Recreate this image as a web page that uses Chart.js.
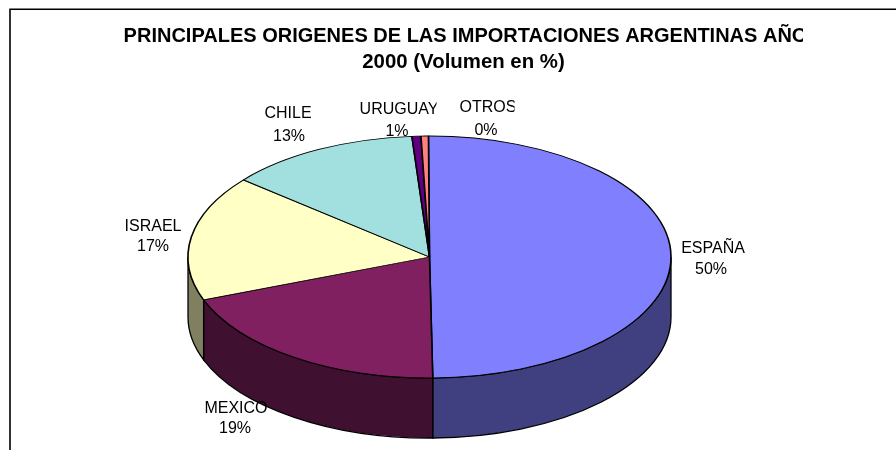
<!DOCTYPE html>
<html><head><meta charset="utf-8">
<style>html,body{margin:0;padding:0;background:#fff}canvas{display:block}</style>
<script src="https://cdn.jsdelivr.net/npm/chart.js@4"></script></head>
<body><canvas id="c" width="896" height="450"></canvas>
<script>
const categories = ["ESPAÑA","MEXICO","ISRAEL","CHILE","URUGUAY","OTROS"];
const volumes = [49.7,19.4,16.7,12.8,0.6,0.49];
const titleLines = ["PRINCIPALES ORIGENES DE LAS IMPORTACIONES ARGENTINAS AÑO","2000 (Volumen en %)"];
const faceColors = ["#8080FF","#802060","#FFFFC6","#A2E0E0","#600080","#FF8080"];
const sideColors = ["#404080","#401030","#808060","#507070","#300040","#804040"];

const PIE = {cx:429.5, cy:257, rx:241.5, ry:121, depth:60};
const labelBoxes = [
  {x:713,y:249,x2:711,y2:270},
  {x:236,y:409,x2:235,y2:429},
  {x:153,y:227,x2:153,y2:247},
  {x:288,y:114,x2:289,y2:137},
  {x:399,y:110,x2:397,y2:132,clip:436.5},
  {x:488,y:108,x2:486,y2:131,clip:514.5}
];

const pie3d = {
  id:'pie3d',
  beforeDraw(chart){
    const c=chart.ctx; c.save();
    c.strokeStyle='#000'; c.lineWidth=1.6;
    c.beginPath(); c.moveTo(10,450); c.lineTo(10,9.2); c.lineTo(896,9.2); c.stroke();
    c.restore();
  },
  beforeDatasetsDraw(chart){
    const c=chart.ctx, arcs=chart.getDatasetMeta(0).data;
    c.save(); c.strokeStyle='#000'; c.lineWidth=1.3;
    arcs.forEach((a,i)=>{
      const s=Math.max(a.startAngle,0), e=Math.min(a.endAngle,Math.PI);
      if(e<=s) return;
      c.beginPath();
      c.ellipse(PIE.cx,PIE.cy,PIE.rx,PIE.ry,0,s,e);
      c.ellipse(PIE.cx,PIE.cy+PIE.depth,PIE.rx,PIE.ry,0,e,s,true);
      c.closePath();
      c.fillStyle=sideColors[i]; c.fill(); c.stroke();
    });
    c.restore();
    const a0=arcs[0];
    c.save();
    c.translate(PIE.cx,PIE.cy);
    c.scale(PIE.rx/a0.outerRadius,PIE.ry/a0.outerRadius);
    c.translate(-a0.x,-a0.y);
  },
  afterDatasetsDraw(chart){
    const c=chart.ctx;
    c.restore();
    c.save();
    c.fillStyle='#000'; c.textBaseline='middle'; c.textAlign='center';
    c.font='bold 20px "Liberation Sans"';
    c.save(); c.beginPath(); c.rect(0,0,803,450); c.clip();
    c.fillText(titleLines[0],465.5,36);
    c.restore();
    c.font='bold 20.4px "Liberation Sans"';
    c.fillText(titleLines[1],463.5,62);
    c.font='16px "Liberation Sans"';
    categories.forEach((name,i)=>{
      const b=labelBoxes[i];
      c.save();
      if(b.clip){c.beginPath(); c.rect(0,0,b.clip,450); c.clip();}
      c.fillText(name,b.x,b.y);
      c.restore();
      c.fillText(Math.round(volumes[i])+'%',b.x2,b.y2);
    });
    c.restore();
  }
};

new Chart(document.getElementById('c'),{
  type:'pie',
  data:{labels:categories,datasets:[{
    data:volumes,backgroundColor:faceColors,borderColor:'#000',borderWidth:1.6,
    radius:PIE.rx,clip:false,hoverOffset:0
  }]},
  options:{
    responsive:false,animation:false,rotation:-0.25,
    layout:{padding:{left:0,right:37,top:0,bottom:0}},
    plugins:{legend:{display:false},title:{display:false},tooltip:{enabled:false}}
  },
  plugins:[pie3d]
});
</script></body></html>
